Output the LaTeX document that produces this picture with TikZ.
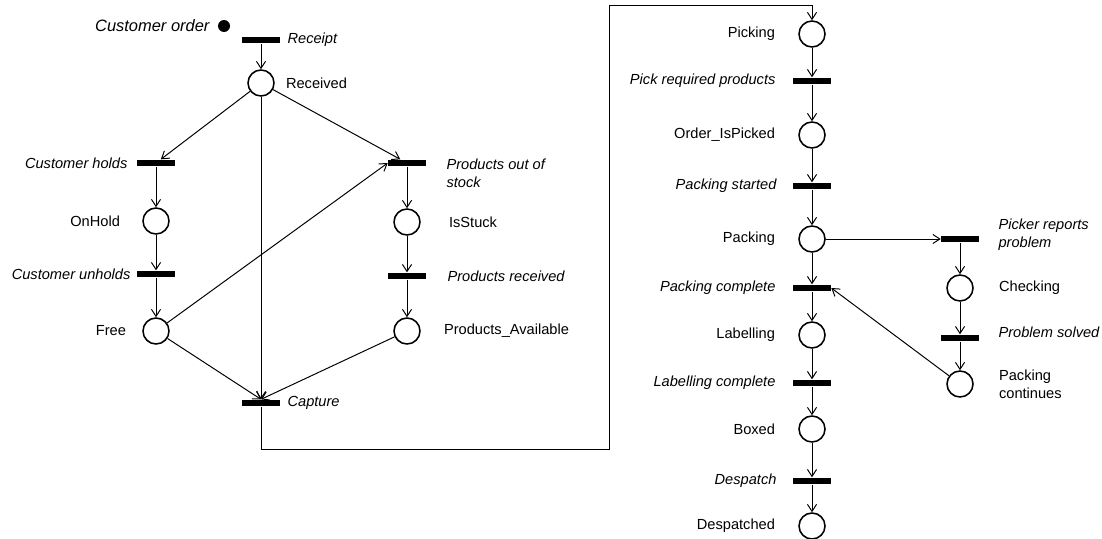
\documentclass[tikz,border=0pt]{standalone}
\usepackage{fontspec}
\setmainfont{Liberation Sans}
\usetikzlibrary{positioning}
\usetikzlibrary{arrows.meta}
\tikzset{
    myplace/.style = {circle, line width=1.1pt, draw=black, minimum size=0.65cm, inner sep=0pt},
    mytrans/.style = {rectangle, fill=black, minimum width=0.95cm, minimum height=0.17cm, inner sep=0pt},
    mytoken/.style = {circle, fill=black, minimum size=0.30cm, inner sep=0pt},
    edgea/.style = {-{Straight Barb[length=5pt,width=6.5pt]},line width=0.7pt},
    lblp/.style = {font=\fontsize{10.4}{12.8}\selectfont, inner sep=0pt}, % place text
    lblt/.style = {font=\fontsize{10.4}{12.8}\selectfont\itshape, inner sep=0pt}, % transition text
}

\begin{document}
\begin{tikzpicture}
  \useasboundingbox (0,0) rectangle (27.55,-13.45);

  % order arrives
  \node[mytoken, label={[lblt,font=\fontsize{11.7}{14}\selectfont\itshape,xshift=-0.2cm]left:Customer order}] (tok) at (5.60,-0.65) {};
  \node[mytrans, label={[lblt,xshift=0.175cm]right:Receipt}] (rcpt) at (6.525,-1.00) {};
  \node[myplace, label={[lblp,xshift=0.275cm]right:Received}] (recv) at (6.525,-2.075) {};

  % hold branch
  \node[mytrans, label={[lblt,xshift=-0.225cm]left:Customer holds}] (chold) at (3.90,-4.075) {};
  \node[myplace, label={[lblp,xshift=-0.55cm]left:OnHold}] (onhold) at (3.90,-5.525) {};
  \node[mytrans, label={[lblt,xshift=-0.15cm]left:Customer unholds}] (cunhold) at (3.90,-6.85) {};
  \node[myplace, label={[lblp,xshift=-0.40cm]left:Free}] (free) at (3.90,-8.275) {};

  % stock branch
  \node[mytrans, label={[lblt,align=left,xshift=0.5cm,yshift=-0.25cm]right:Products out of\\stock}] (pout) at (10.175,-4.075) {};
  \node[myplace, label={[lblp,xshift=0.70cm]right:IsStuck}] (stuck) at (10.175,-5.55) {};
  \node[mytrans, label={[lblt,xshift=0.525cm]right:Products received}] (prec) at (10.175,-6.90) {};
  \node[myplace, label={[lblp,xshift=0.575cm]right:Products\_Available}] (pavail) at (10.175,-8.275) {};

  \node[mytrans, label={[lblt,xshift=0.175cm]right:Capture}] (capt) at (6.525,-10.075) {};

  % warehouse column
  \node[myplace, label={[lblp,xshift=-0.575cm]left:Picking}] (pick) at (20.30,-0.85) {};
  \node[mytrans, label={[lblt,xshift=-0.425cm]left:Pick required products}] (preq) at (20.30,-2.025) {};
  \node[myplace, label={[lblp,xshift=-0.575cm]left:Order\_IsPicked}] (picked) at (20.30,-3.375) {};
  \node[mytrans, label={[lblt,xshift=-0.40cm]left:Packing started}] (pstart) at (20.30,-4.65) {};
  \node[myplace, label={[lblp,xshift=-0.575cm]left:Packing}] (pack) at (20.30,-5.975) {};
  \node[mytrans, label={[lblt,xshift=-0.425cm]left:Packing complete}] (pcomp) at (20.30,-7.20) {};
  \node[myplace, label={[lblp,xshift=-0.575cm]left:Labelling}] (lab) at (20.30,-8.375) {};
  \node[mytrans, label={[lblt,xshift=-0.425cm]left:Labelling complete}] (lcomp) at (20.30,-9.575) {};
  \node[myplace, label={[lblp,xshift=-0.575cm]left:Boxed}] (boxed) at (20.30,-10.725) {};
  \node[mytrans, label={[lblt,xshift=-0.40cm]left:Despatch}] (desp) at (20.30,-12.025) {};
  \node[myplace, label={[lblp,xshift=-0.575cm]left:Despatched}] (desped) at (20.30,-13.15) {};

  % problem branch
  \node[mytrans, label={[lblt,align=left,xshift=0.475cm,yshift=0.1cm]right:Picker reports\\problem}] (prp) at (24.00,-5.975) {};
  \node[myplace, label={[lblp,xshift=0.625cm]right:Checking}] (check) at (24.00,-7.20) {};
  \node[mytrans, label={[lblt,xshift=0.475cm,yshift=0.15cm]right:Problem solved}] (psolv) at (24.00,-8.45) {};
  \node[myplace, label={[lblp,align=left,xshift=0.625cm]right:Packing\\continues}] (pcont) at (24.00,-9.60) {};

  \coordinate (c1) at (15.225,-11.225);
  \coordinate (c2) at (15.225,-0.125);

  \draw[edgea] (rcpt) -- (recv);
  \draw[edgea] (recv) -- (chold);
  \draw[edgea] (recv) -- (pout);
  \draw[edgea] (recv) -- (capt);
  \draw[edgea] (chold) -- (onhold);
  \draw[edgea] (onhold) -- (cunhold);
  \draw[edgea] (cunhold) -- (free);
  \draw[edgea] (free) -- (pout.west);
  \draw[edgea] (free) -- (capt.north);
  \draw[edgea] (pout) -- (stuck);
  \draw[edgea] (stuck) -- (prec);
  \draw[edgea] (prec) -- (pavail);
  \draw[edgea] (pavail) -- (capt.north);
  \draw[edgea] (capt) |- (c1) -- (c2) -| (pick);

  \draw[edgea] (pick) -- (preq);
  \draw[edgea] (preq) -- (picked);
  \draw[edgea] (picked) -- (pstart);
  \draw[edgea] (pstart) -- (pack);
  \draw[edgea] (pack) -- (pcomp);
  \draw[edgea] (pcomp) -- (lab);
  \draw[edgea] (lab) -- (lcomp);
  \draw[edgea] (lcomp) -- (boxed);
  \draw[edgea] (boxed) -- (desp);
  \draw[edgea] (desp) -- (desped);

  \draw[edgea] (pack) -- (prp);
  \draw[edgea] (prp) -- (check);
  \draw[edgea] (check) -- (psolv);
  \draw[edgea] (psolv) -- (pcont);
  \draw[edgea] (pcont) -- (pcomp.east);

\end{tikzpicture}
\end{document}
